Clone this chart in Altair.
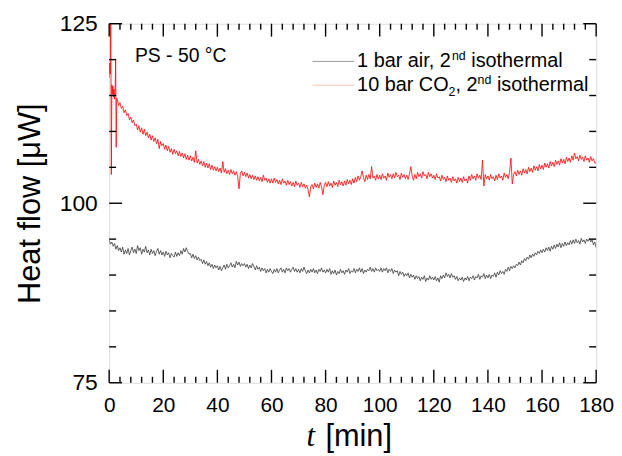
import altair as alt
import pandas as pd

# ---------------- data (0.5 min steps) ----------------
t_air = [i * 0.5 for i in range(361)]
hf_air = [
    94.9, 94.3, 94.6, 94.0, 94.4, 93.6, 94.1, 93.4, 93.8, 93.2, 93.9, 92.9, 93.5, 93.0, 93.7, 92.8, 93.4, 93.9, 93.1, 93.6,
    93.0, 94.1, 93.4, 93.8, 92.9, 93.6, 93.2, 94.0, 93.1, 93.5, 92.8, 93.6, 93.0, 93.4, 92.7, 93.3, 93.7, 92.9, 93.4, 92.8,
    93.2, 92.6, 93.3, 92.8, 93.1, 92.4, 93.0, 92.7, 92.5, 93.2, 92.6, 93.1, 92.7, 93.4, 92.9, 93.7, 93.2, 93.8, 93.3, 92.9,
    93.0, 92.4, 92.9, 92.3, 92.7, 92.1, 92.5, 92.0, 92.2, 91.6, 92.1, 91.5, 91.9, 91.3, 91.7, 91.1, 91.5, 90.9, 91.4, 91.0,
    91.3, 90.7, 91.2, 90.6, 91.0, 91.4, 90.8, 91.5, 91.0, 91.3, 91.7, 91.1, 91.5, 91.0, 91.9, 91.4, 91.8, 91.2, 91.6, 91.3,
    91.6, 91.1, 91.5, 90.9, 91.4, 91.0, 91.6, 91.2, 90.7, 91.3, 90.8, 91.1, 90.5, 91.0, 90.6, 90.9, 90.3, 90.8, 90.4, 90.9,
    90.5, 90.2, 90.8, 90.4, 90.9, 90.3, 90.7, 91.0, 90.4, 90.8, 90.3, 91.0, 90.6, 90.9, 90.4, 90.8, 91.1, 90.5, 90.9, 90.4,
    90.8, 90.3, 90.9, 90.5, 91.1, 90.6, 90.2, 90.7, 90.3, 90.8, 90.4, 90.9, 90.3, 90.7, 90.2, 90.8, 90.5, 91.0, 90.4, 90.7,
    90.3, 90.8, 90.4, 90.9, 90.1, 90.6, 90.2, 90.7, 90.0, 90.5, 90.2, 90.8, 90.3, 90.6, 90.1, 90.7, 90.4, 90.9, 90.2, 90.6,
    90.4, 90.9, 90.3, 90.8, 90.5, 91.0, 90.4, 90.9, 90.2, 90.7, 90.4, 90.8, 90.6, 91.1, 90.5, 90.9, 90.4, 91.0, 90.6, 90.8,
    90.5, 91.0, 90.4, 90.9, 90.6, 91.0, 90.3, 90.8, 90.5, 90.9, 90.2, 90.7, 90.4, 90.6, 89.9, 90.5, 90.1, 90.4, 89.8, 90.2,
    89.9, 90.3, 89.6, 90.1, 89.7, 90.0, 89.4, 89.9, 89.5, 89.8, 89.2, 89.7, 89.4, 89.9, 89.1, 89.6, 89.3, 89.9, 89.4, 89.7,
    89.3, 89.8, 89.2, 89.6, 89.0, 89.9, 89.5, 90.0, 89.6, 90.3, 89.8, 90.1, 89.6, 90.2, 89.7, 89.9, 89.4, 89.8, 89.2, 89.6,
    89.3, 89.7, 89.1, 89.6, 89.3, 89.8, 89.2, 89.7, 89.5, 89.9, 89.3, 89.8, 89.6, 90.1, 89.4, 89.9, 89.7, 90.2, 89.5, 90.0,
    89.6, 90.1, 89.5, 90.0, 89.8, 90.3, 89.7, 90.4, 90.0, 90.6, 90.2, 90.5, 90.1, 90.8, 90.5, 91.1, 90.6, 91.2, 90.9, 91.3,
    91.0, 91.5, 91.3, 91.8, 91.4, 92.0, 91.7, 92.3, 92.0, 92.5, 92.2, 92.8, 92.4, 92.9, 92.6, 93.1, 92.8, 93.3, 93.0, 93.5,
    93.1, 93.6, 93.2, 93.8, 93.4, 93.9, 93.3, 94.0, 93.6, 94.2, 93.7, 94.3, 93.9, 94.5, 93.8, 94.4, 94.0, 94.6, 94.1, 94.5,
    94.2, 94.8, 94.3, 94.9, 94.4, 95.0, 94.5, 94.8, 94.3, 95.1, 94.6, 94.9, 94.4, 95.0, 94.7, 95.1, 94.6, 94.9, 94.2, 94.6,
    93.8,
]

t_co2 = [0, 0.2, 0.4, 0.6, 0.8, 1.0, 1.2, 1.4, 1.6, 1.8, 2.0, 2.2, 2.4, 2.6, 2.8] + [3 + i * 0.5 for i in range(355)]
hf_co2 = [
    117.5, 119.5, 118.0, 126.0, 104.0, 116.5, 115.2, 116.3, 114.8, 115.9, 114.5, 115.5, 120.0, 107.8, 114.6,
    114.5, 113.6, 114.0, 113.2, 113.5, 112.6, 113.0, 112.2, 112.5, 111.6, 112.0, 111.2, 111.6, 110.8,
    111.0, 110.2, 110.8, 109.9, 110.5, 109.6, 110.3, 109.4, 109.9, 109.1, 109.6, 108.8, 109.4, 108.6, 109.1, 108.3, 108.9, 107.6, 108.6, 108.0,
    108.3, 107.5, 108.1, 107.3, 107.9, 107.1, 107.6, 106.8, 107.5, 106.9, 107.3, 106.6, 107.2, 106.5, 107.0, 106.3, 106.9, 106.1, 106.7, 106.0,
    106.6, 105.9, 106.4, 105.7, 107.3, 105.6, 106.1, 105.4, 105.9, 105.2, 105.8, 105.0, 105.6, 104.9, 105.5, 104.7, 105.3, 104.6, 105.1, 104.5,
    105.0, 104.4, 104.9, 104.2, 105.8, 104.3, 104.8, 104.1, 104.6, 104.0, 104.7, 104.1, 104.5, 103.9, 104.4, 103.7, 102.0, 104.2, 104.5, 103.8,
    104.3, 103.7, 104.2, 103.5, 104.0, 103.4, 103.9, 103.3, 103.8, 103.2, 103.7, 103.1, 103.6, 103.0, 103.9, 103.2, 103.5, 102.9, 103.4, 102.8,
    103.4, 102.8, 103.5, 102.9, 103.3, 102.7, 103.2, 102.6, 103.4, 102.8, 103.1, 102.5, 103.2, 102.6, 103.0, 102.4, 102.9, 102.3, 103.1, 102.5,
    102.8, 102.2, 102.9, 102.3, 102.7, 102.1, 102.5, 101.9, 100.9, 102.3, 102.6, 102.0, 102.8, 102.2, 102.7, 102.1, 102.9, 102.3, 101.2, 102.5,
    102.9, 102.3, 103.0, 102.4, 102.8, 102.2, 103.1, 102.5, 102.9, 102.3, 103.2, 102.6, 103.0, 102.4, 103.1, 102.5, 103.3, 102.7, 103.2, 102.6,
    103.4, 102.8, 103.6, 103.0, 103.8, 103.2, 103.7, 104.5, 103.6, 103.0, 103.9, 103.3, 104.0, 103.4, 105.1, 103.5, 103.8, 103.2, 104.0, 103.4,
    103.9, 103.3, 104.1, 103.5, 103.8, 103.2, 104.2, 103.6, 104.0, 103.4, 104.1, 103.5, 104.3, 103.7, 103.9, 103.3, 104.2, 103.6, 104.0, 103.4,
    103.9, 103.3, 104.1, 105.1, 103.8, 103.2, 104.0, 103.4, 104.3, 103.7, 104.1, 103.5, 104.4, 103.8, 104.0, 103.4, 104.3, 103.7, 104.1, 103.5,
    103.9, 103.3, 104.1, 103.5, 103.7, 103.1, 103.9, 103.3, 103.6, 103.0, 103.8, 103.2, 103.5, 102.9, 103.7, 103.1, 103.4, 102.8, 103.6, 103.0,
    103.5, 102.9, 103.7, 103.1, 103.4, 102.8, 103.8, 103.2, 104.0, 103.4, 103.8, 103.2, 104.1, 103.5, 103.9, 103.3, 106.0, 102.4, 104.0, 103.4,
    103.8, 103.2, 104.0, 103.4, 103.7, 103.1, 103.9, 103.3, 104.1, 103.5, 103.8, 103.2, 104.2, 103.6, 104.0, 103.4, 104.3, 106.3, 102.7, 104.0,
    104.4, 103.8, 104.6, 104.0, 104.5, 103.9, 104.8, 104.2, 104.7, 104.1, 105.0, 104.4, 104.9, 104.3, 105.2, 104.6, 105.1, 104.5, 105.4, 104.8,
    105.3, 104.7, 105.6, 105.0, 105.5, 104.9, 105.8, 105.2, 105.7, 105.1, 106.0, 105.4, 105.9, 105.3, 106.2, 105.6, 106.1, 105.5, 106.4, 105.8,
    106.3, 105.7, 106.6, 106.0, 107.0, 106.2, 106.5, 105.9, 106.7, 106.1, 106.4, 105.8, 106.6, 106.0, 106.3, 105.7, 106.5, 105.9, 106.2, 105.6,
    105.6,
]

n_air = min(len(t_air), len(hf_air))
n_co2 = min(len(t_co2), len(hf_co2))

x_major = list(range(0, 181, 20))
x_minor = [v for v in range(0, 181, 4) if v % 20]
y_major = [75, 100, 125]
y_minor = [80, 85, 90, 95, 105, 110, 115, 120]

legend_names = ["1 bar air", "10 bar CO"]
annotation = "PS - 50 °C"
y_title = "Heat flow [μW]"

# ---------------- layout ----------------
W, H = 491, 362
FONT = "Liberation Sans"
xs = alt.Scale(domain=[0, 180], nice=False, zero=False)
ys = alt.Scale(domain=[75, 125], nice=False, zero=False)

x_axis = alt.Axis(
    values=x_major, labelFontSize=21, labelFont=FONT, labelColor="black",
    ticks=False, domain=False, grid=False, labelPadding=12, title=None,
    labelFlush=False, labelOverlap=False)
y_axis = alt.Axis(
    values=y_major, labelFontSize=23, labelFont=FONT, labelColor="black",
    ticks=False, domain=False, grid=False, labelPadding=12,
    labelFlush=False, labelOverlap=False,
    title=y_title, titleFont=FONT, titleFontSize=31, titleFontWeight="normal",
    titleColor="black", titleX=-70, titleY=H / 2, titleAngle=270,
    titleAlign="center", titleBaseline="alphabetic")

AW = {' ': 278, ',': 278, '0': 556, '1': 556, '2': 556, 'a': 556, 'b': 556, 'c': 500,
      'd': 556, 'e': 556, 'h': 556, 'i': 222, 'l': 222, 'm': 833, 'n': 556, 'o': 556,
      'r': 333, 's': 500, 't': 278, 'C': 722, 'O': 778}


def tw(s, size):
    return sum(AW.get(c, 556) for c in s) * size / 1000.0


air_df = pd.DataFrame({"t": t_air[:n_air], "hf": hf_air[:n_air]})
co2_df = pd.DataFrame({"t": t_co2[:n_co2], "hf": hf_co2[:n_co2]})

base = alt.Chart(air_df).mark_line(color="#3a3a3a", strokeWidth=0.8, clip=True).encode(
    x=alt.X("t:Q", scale=xs, axis=x_axis, title=None),
    y=alt.Y("hf:Q", scale=ys, axis=y_axis, title=y_title),
)

red = alt.Chart(co2_df).mark_line(color="#ff0000", strokeWidth=0.8, clip=True).encode(
    x=alt.X("t:Q", scale=xs, axis=x_axis, title=None),
    y=alt.Y("hf:Q", scale=ys, axis=y_axis, title=y_title),
)


def xticks(vals, top, length):
    df = pd.DataFrame({"v": vals})
    y0 = 0 if top else H
    y1 = length if top else H - length
    return alt.Chart(df).mark_rule(color="black", strokeWidth=1.4).encode(
        x=alt.X("v:Q", scale=xs, axis=x_axis, title=None), y=alt.value(y0), y2=alt.value(y1))


def yticks(vals, right, length):
    df = pd.DataFrame({"v": vals})
    x0 = W if right else 0
    x1 = W - length if right else length
    return alt.Chart(df).mark_rule(color="black", strokeWidth=1.4).encode(
        y=alt.Y("v:Q", scale=ys, axis=y_axis, title=y_title), x=alt.value(x0), x2=alt.value(x1))


ticks = [
    xticks(x_major, False, 13), xticks(x_minor, False, 6),
    xticks(x_major, True, 13), xticks(x_minor, True, 6),
    yticks(y_major, False, 13), yticks(y_minor, False, 7),
    yticks(y_major, True, 13), yticks(y_minor, True, 7),
]


def txt(s, x, y, size=19, font=FONT, style="normal", align="left", baseline="alphabetic"):
    return alt.Chart(pd.DataFrame({"s": [s]})).mark_text(
        font=font, fontSize=size, fontStyle=style, align=align, baseline=baseline,
        color="black").encode(x=alt.value(x), y=alt.value(y), text="s:N")


def seg(x0, x1, y, color):
    return alt.Chart(pd.DataFrame({"a": [0]})).mark_rule(color=color, strokeWidth=1).encode(
        x=alt.value(x0), x2=alt.value(x1), y=alt.value(y))


LF, SF = 20, 12.5
lx = 250
SP = tw(" ", LF)
# row 1
r1 = legend_names[0] + ", 2"
r1y = 44
x1 = lx + tw(r1, LF)
row1 = [
    seg(205, 247, 38, "#9a9a9a"),
    txt(r1, lx, r1y, LF),
    txt("nd", x1, r1y - 7.5, SF),
    txt("isothermal", x1 + tw("nd", SF) + SP, r1y, LF),
]
# row 2
r2a = legend_names[1]
r2y = 68
xa = lx + tw(r2a, LF)
xb = xa + tw("2", SF)
r2b = ", 2"
xc = xb + tw(r2b, LF)
xd = xc + tw("nd", SF) + SP
row2 = [
    seg(205, 247, 62, "#ffbcbc"),
    txt(r2a, lx, r2y, LF),
    txt("2", xa, r2y + 5, SF),
    txt(r2b, xb, r2y, LF),
    txt("nd", xc, r2y - 7.5, SF),
    txt("isothermal", xd, r2y, LF),
]

labels = [
    txt(annotation, 26, 39, 19.5),
    txt("t", 199, 426, 31, font="Liberation Serif", style="italic"),
    txt("[min]", 218, 426, 31),
]

chart = alt.layer(base, red, *ticks, *row1, *row2, *labels).properties(
    width=W, height=H,
    autosize=alt.AutoSizeParams(type="none"),
    padding={"left": 102, "top": 14, "right": 18, "bottom": 70},
).configure_view(stroke="black", strokeWidth=2).configure(background="white")

chart.save("out.html", embed_options={"renderer": "svg", "actions": False})
